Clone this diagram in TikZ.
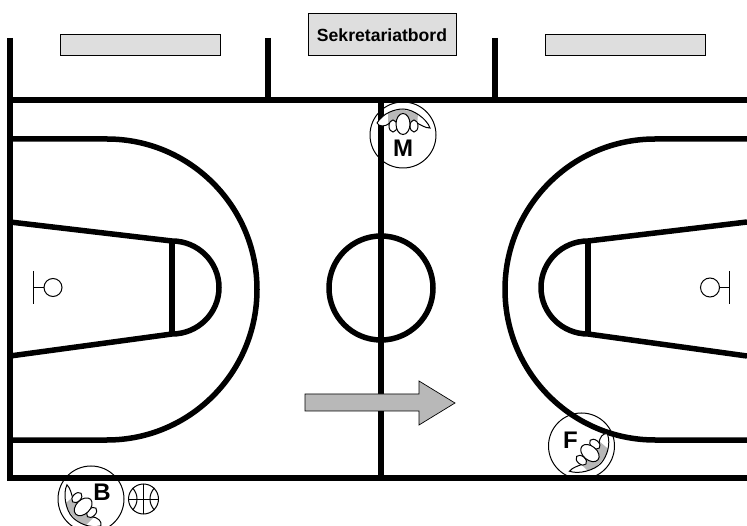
\documentclass[tikz,border=0pt]{standalone}
\usepackage{fontspec}
\setmainfont{Liberation Sans}
\usepackage{tikz}
\tikzstyle{court} = [line width=6pt]
\tikzstyle{courtarc} = [line width=5.5pt]
\tikzstyle{hoop} = [line width=1pt]
\tikzstyle{board} = [draw, line width=1pt, fill=black!13, inner sep=0pt]
\tikzstyle{playerlabel} = [font=\bfseries\fontsize{24}{24}\selectfont, inner sep=0pt]
\tikzset{
  playericon/.pic={
    \fill[white] (-26,-12) .. controls (-20,-22) and (-8,-26) .. (0,-26)
      .. controls (10,-26) and (24,-16) .. (27,-7)
      .. controls (22,-7) and (18,-10) .. (14,-12) -- (-13,-12)
      .. controls (-18,-8) and (-24,-8) .. cycle;
    \fill[black!28] (-15,-22.5) .. controls (-8,-26) and (8,-26) .. (15,-21) -- (14,-9) -- (-15,-9) -- cycle;
    \draw[line width=1pt] (-26,-12) .. controls (-20,-22) and (-8,-26) .. (0,-26)
      .. controls (10,-26) and (24,-16) .. (27,-7)
      .. controls (22,-7) and (18,-10) .. (14,-12);
    \draw[line width=1pt] (-13,-12) .. controls (-18,-8) and (-24,-8) .. (-26,-12);
    \draw[line width=1pt, fill=white] (-10,-9) ellipse [x radius=4, y radius=6];
    \draw[line width=1pt, fill=white] (11,-9) ellipse [x radius=4, y radius=6];
    \draw[line width=1pt, fill=white] (0,-11) ellipse [x radius=7, y radius=10.5];
  }
}

\begin{document}
\begin{tikzpicture}[x=1pt, y=-1pt]
    \clip (0,0) rectangle (747,526);

    % Arcs and keys
    \draw [courtarc] (10,139) -- (107,139) arc [start angle=90, end angle=-90, x radius=150, y radius=-150.5] -- (10,440);
    \draw [courtarc] (747,139) -- (655,139) arc [start angle=90, end angle=270, x radius=150, y radius=-150.5] -- (747,440);
    \draw [courtarc] (10,222) -- (172,241) arc [start angle=90, end angle=-90, x radius=47, y radius=-46.5] -- (10,356);
    \draw [courtarc] (747,222) -- (588,241) arc [start angle=90, end angle=270, x radius=47, y radius=-46.5] -- (747,356);
    \draw [courtarc] (172,241) -- (172,334);
    \draw [courtarc] (588,241) -- (588,334);
    \draw [courtarc] (381,288) circle [radius=52];

    % Players
    \foreach \i/\j in {403/135, 91/499, 581.5/446} {
        \draw [line width=1pt] (\i,\j) circle [radius=33];
    }

    % Outer lines
    \draw [court] (10,38) -- (10,478) -- (747,478);
    \draw [court] (10,100) -- (747,100);
    \draw [court] (268,38) -- (268,100);
    \draw [court] (495,38) -- (495,100);
    \draw [court] (381,100) -- (381,478);

    % Icons above the lines
    \foreach \i/\j/\rot in {403/135/0, 91/499/135, 581.5/446/-130} {
        \pic [rotate=\rot] at (\i,\j) {playericon};
    }
    \node [playerlabel] (M) at (403,148) {M};
    \node [playerlabel] (B) at (102,492) {B};
    \node [playerlabel] (F) at (570.5,440) {F};

    % Benches and table
    \node [board, minimum width=160pt, minimum height=21pt] (bench1) at (140,45) {};
    \node [board, minimum width=160pt, minimum height=21pt] (bench2) at (625,45) {};
    \node [board, minimum width=148pt, minimum height=42pt, font=\bfseries\fontsize{17.6}{17.6}\selectfont] (table) at (382,35) {Sekretariatbord};

    % Hoops
    \draw [hoop] (33.7,271) -- (33.7,304);
    \draw [hoop] (33.7,287.5) -- (44,287.5);
    \draw [hoop] (53,287.5) circle [radius=9];
    \draw [hoop] (729.5,271) -- (729.5,304);
    \draw [hoop] (729.5,287.5) -- (719.5,287.5);
    \draw [hoop] (710,287.5) circle [radius=9.5];

    % Direction of play
    \draw [line width=0.7pt, fill=black!28] (305,394) -- (419,394) -- (419,381) -- (455,403) -- (419,425) -- (419,411) -- (305,411) -- cycle;

    % Ball
    \draw [line width=1pt] (143.5,499) circle [radius=15];
    \draw [line width=1pt] (128.5,499) -- (158.5,499);
    \draw [line width=1pt] (143.5,484) -- (143.5,514);
    \draw [line width=1pt] (132.5,488) .. controls (138.5,494) and (138.5,504) .. (132.5,510);
    \draw [line width=1pt] (154.5,488) .. controls (148.5,494) and (148.5,504) .. (154.5,510);
\end{tikzpicture}
\end{document}
